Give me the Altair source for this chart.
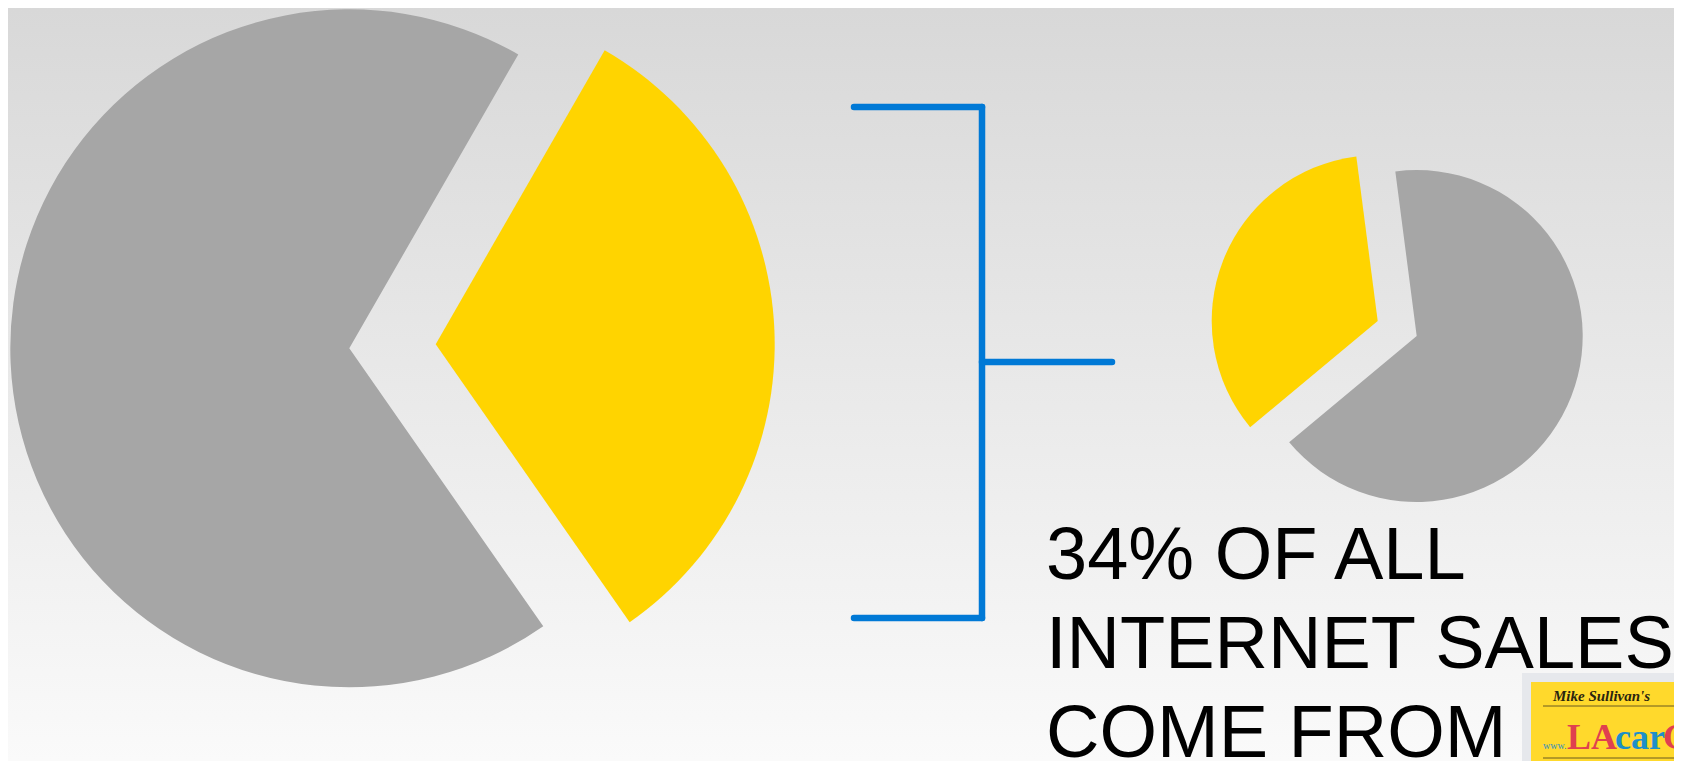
import math
import altair as alt
import pandas as pd

# ---- data ----
big_labels = ["Internet sales", "Other sales"]
big_values = [32, 68]
small_labels = ["LAcarGuy", "Other dealers"]
small_values = [34, 66]
caption_lines = ["34% OF ALL", "INTERNET SALES", "COME FROM"]

YELLOW = "#ffd400"
GRAY = "#a6a6a6"
BLUE = "#0079d6"

W, H = 1666, 753

one = pd.DataFrame({"k": [0]})

# background gradient
bg = alt.Chart(one).mark_rect(
    color=alt.LinearGradient(
        gradient="linear",
        stops=[alt.GradientStop(color="#d8d8d8", offset=0),
               alt.GradientStop(color="#fafafa", offset=1)],
        x1=0, x2=0, y1=0, y2=1,
    )
).encode(x=alt.value(0), x2=alt.value(W), y=alt.value(0), y2=alt.value(H))


def pie_slice(labels, values, which, color, cx, cy, radius, start_deg):
    df = pd.DataFrame({"segment": labels, "share": values, "ord": list(range(len(labels)))})
    return alt.Chart(df).transform_window(
        cum="sum(share)", sort=[alt.SortField("ord")], frame=[None, 0]
    ).transform_joinaggregate(
        total="sum(share)"
    ).transform_calculate(
        f0="(datum.cum - datum.share) / datum.total",
        f1="datum.cum / datum.total",
    ).transform_filter(
        alt.datum.segment == labels[which]
    ).mark_arc(radius=radius, color=color).encode(
        theta=alt.Theta("f0:Q", scale=alt.Scale(
            domain=[0, 1], range=[math.radians(start_deg), math.radians(start_deg + 360)])),
        theta2="f1:Q",
        x=alt.value(cx),
        y=alt.value(cy),
    )


big_yellow = pie_slice(big_labels, big_values, 0, YELLOW, 427.7, 336.2, 339, 29.9)
big_gray = pie_slice(big_labels, big_values, 1, GRAY, 341.3, 340.3, 339, 29.9)
small_yellow = pie_slice(small_labels, small_values, 0, YELLOW, 1369.7, 313, 166, 230.2)
small_gray = pie_slice(small_labels, small_values, 1, GRAY, 1408.7, 328, 166, 230.2)


def rule(x1, x2, y1, y2):
    return alt.Chart(one).mark_rule(color=BLUE, strokeWidth=6.5, strokeCap="round").encode(
        x=alt.value(x1), x2=alt.value(x2), y=alt.value(y1), y2=alt.value(y2))


bracket = [
    rule(846, 974, 99, 99),
    rule(974, 974, 99, 610),
    rule(846, 974, 610, 610),
    rule(974, 1104, 354, 354),
]

caption = alt.Chart(one).mark_text(
    text=caption_lines, align="left", baseline="alphabetic", font="Liberation Sans",
    fontSize=74, lineHeight=89, color="#000000"
).encode(x=alt.value(1038), y=alt.value(571))

# logo (cropped at the corner)
logo_border = alt.Chart(one).mark_rect(color="#e6e8ec").encode(
    x=alt.value(1514), x2=alt.value(W), y=alt.value(665), y2=alt.value(H))
logo_fill = alt.Chart(one).mark_rect(color="#ffd92c").encode(
    x=alt.value(1523), x2=alt.value(W), y=alt.value(674), y2=alt.value(H))
logo_rule = alt.Chart(one).mark_rule(color="#6b5a20", strokeWidth=1).encode(
    x=alt.value(1535), x2=alt.value(W), y=alt.value(698), y2=alt.value(698))
logo_rule2 = alt.Chart(one).mark_rule(color="#6b5a20", strokeWidth=1).encode(
    x=alt.value(1535), x2=alt.value(W), y=alt.value(750), y2=alt.value(750))
logo_name = alt.Chart(one).mark_text(
    text="Mike Sullivan's", align="left", baseline="alphabetic", font="Liberation Serif",
    fontSize=15, fontStyle="italic", fontWeight="bold", color="#2a2410"
).encode(x=alt.value(1545), y=alt.value(693))
logo_www = alt.Chart(one).mark_text(
    text="www.", align="left", baseline="alphabetic", font="Liberation Serif",
    fontSize=10, color="#2f8ec4"
).encode(x=alt.value(1535), y=alt.value(741))
logo_la = alt.Chart(one).mark_text(
    text="LA", align="left", baseline="alphabetic", font="Liberation Serif",
    fontSize=36, fontWeight="bold", color="#e0404f"
).encode(x=alt.value(1559), y=alt.value(741))
logo_car = alt.Chart(one).mark_text(
    text="car", align="left", baseline="alphabetic", font="Liberation Serif",
    fontSize=36, fontWeight="bold", color="#1e8fc8"
).encode(x=alt.value(1607), y=alt.value(741))
logo_g = alt.Chart(one).mark_text(
    text="G", align="left", baseline="alphabetic", font="Liberation Serif",
    fontSize=36, fontWeight="bold", color="#e0404f"
).encode(x=alt.value(1655), y=alt.value(741))

chart = alt.layer(
    bg, big_gray, big_yellow, small_gray, small_yellow, *bracket, caption,
    logo_border, logo_fill, logo_rule, logo_rule2, logo_name, logo_www, logo_la, logo_car, logo_g,
).resolve_scale(theta="independent").properties(
    width=W, height=H,
    autosize=alt.AutoSizeParams(type="none"),
    padding=0,
).configure_view(strokeWidth=0)

chart.save("out.html", embed_options={"renderer": "svg", "actions": False})
